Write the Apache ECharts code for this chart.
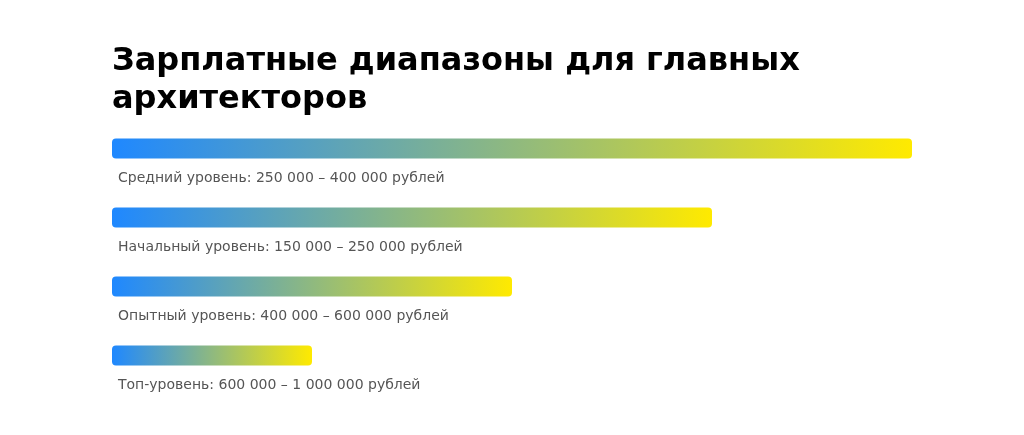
<!DOCTYPE html>
<html>
<head>
<meta charset="utf-8">
<script src="https://cdn.jsdelivr.net/npm/echarts@6/dist/echarts.min.js"></script>
<style>html,body{margin:0;padding:0;background:#fff;}#c{width:1024px;height:435px;}</style>
</head>
<body>
<div id="c"></div>
<script>
const titleText = 'Зарплатные диапазоны для главных\nархитекторов';
const categories = ['Средний уровень', 'Начальный уровень', 'Опытный уровень', 'Топ-уровень'];
const labels = [
  'Средний уровень: 250 000 – 400 000 рублей',
  'Начальный уровень: 150 000 – 250 000 рублей',
  'Опытный уровень: 400 000 – 600 000 рублей',
  'Топ-уровень: 600 000 – 1 000 000 рублей'
];
const values = [100, 75, 50, 25];

const chart = echarts.init(document.getElementById('c'), null, {renderer: 'canvas'});
chart.setOption({
  animation: false,
  backgroundColor: '#ffffff',
  title: {
    text: titleText,
    left: 107,
    top: 38,
    textStyle: {fontFamily: 'DejaVu Sans', fontWeight: 'bold', fontSize: 32, lineHeight: 38, color: '#000'}
  },
  grid: {left: 112, width: 800, top: 114, bottom: 45},
  xAxis: {type: 'value', min: 0, max: 100, show: false},
  yAxis: {type: 'category', data: categories, inverse: true, show: false},
  series: [{
    type: 'bar',
    barWidth: 20,
    data: values.map((v, i) => ({value: v, label: {formatter: labels[i]}})),
    itemStyle: {
      borderRadius: 4,
      color: new echarts.graphic.LinearGradient(0, 0, 1, 0, [
        {offset: 0, color: '#1f88ff'},
        {offset: 1, color: '#ffea00'}
      ])
    },
    label: {
      show: true,
      position: [6, 40],
      align: 'left',
      verticalAlign: 'middle',
      fontFamily: 'DejaVu Sans',
      fontSize: 14,
      color: '#555555'
    }
  }]
});
</script>
</body>
</html>
